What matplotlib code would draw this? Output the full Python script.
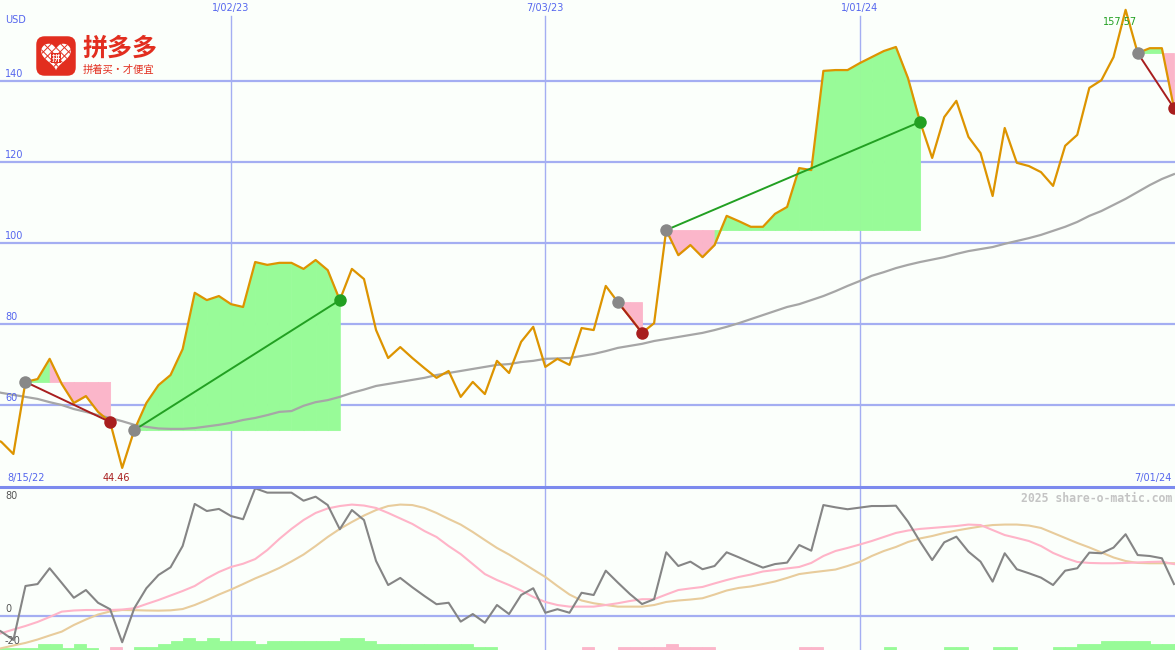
import numpy as np
import pandas as pd
import matplotlib
matplotlib.use('Agg')
import matplotlib.pyplot as plt
import matplotlib.dates as mdates
from matplotlib.patches import FancyBboxPatch, Polygon

# weekly closes, 8/15/22 .. 7/01/24 (USD)
weeks = pd.date_range('2022-08-15', periods=99, freq='7D')
price = [52.1, 50.9, 47.9, 65.7, 66.4, 71.4, 65.2, 60.5, 62.2, 58.3,
         55.8, 44.46, 53.8, 60.5, 64.9, 67.4, 73.8, 87.7, 85.9, 86.9,
         84.9, 84.2, 95.3, 94.6, 95.1, 95.1, 93.6, 95.8, 93.3, 85.9,
         93.6, 91.1, 78.5, 71.6, 74.3, 71.6, 69.1, 66.7, 68.4, 62.0,
         65.7, 62.7, 70.9, 67.9, 75.6, 79.3, 69.4, 71.4, 69.9, 79.0,
         78.5, 89.4, 85.4, 81.7, 77.8, 80.2, 103.2, 97.0, 99.5, 96.5,
         99.5, 106.7, 105.4, 104.0, 104.0, 107.2, 108.9, 118.5, 118.0, 142.5,
         142.7, 142.7, 144.4, 145.9, 147.4, 148.4, 140.7, 129.9, 121.0, 131.1,
         135.1, 126.2, 122.2, 111.6, 128.4, 119.8, 119.0, 117.5, 114.1, 124.0,
         126.7, 138.3, 140.2, 145.9, 157.57, 146.9, 148.1, 148.1, 133.3]
ma_long = [63.7, 63.0, 62.5, 62.0, 61.5, 60.7, 60.0, 59.0, 58.3, 57.5,
           56.8, 56.0, 55.1, 54.6, 54.2, 54.1, 54.1, 54.3, 54.7, 55.1,
           55.6, 56.3, 56.8, 57.5, 58.3, 58.5, 59.8, 60.7, 61.2, 62.0,
           63.0, 63.8, 64.7, 65.2, 65.7, 66.2, 66.7, 67.4, 67.9, 68.4,
           68.9, 69.4, 69.9, 70.1, 70.6, 70.9, 71.4, 71.5, 71.6, 72.1,
           72.6, 73.3, 74.1, 74.6, 75.1, 75.8, 76.3, 76.8, 77.3, 77.8,
           78.5, 79.3, 80.2, 81.2, 82.2, 83.2, 84.2, 84.9, 85.9, 86.9,
           88.1, 89.4, 90.6, 91.9, 92.8, 93.8, 94.6, 95.3, 95.9, 96.5,
           97.3, 98.0, 98.5, 99.0, 99.8, 100.5, 101.2, 102.0, 103.0, 104.0,
           105.2, 106.7, 107.9, 109.4, 110.9, 112.6, 114.3, 115.8, 117.0]

# lower panel oscillator
osc = [-5.6, -9.7, -14.9, 18.6, 19.8, 29.6, 20.5, 11.3, 16.1, 8.2,
       4.2, -16.3, 4.8, 17.2, 25.4, 30.2, 43.4, 69.5, 65.1, 66.4,
       62.0, 60.0, 79.2, 76.5, 76.5, 76.5, 71.5, 74.0, 68.8, 53.8,
       65.7, 59.5, 34.1, 19.2, 23.6, 17.8, 12.4, 7.3, 8.2, -3.5,
       1.2, -4.2, 6.8, 1.2, 13.0, 17.2, 2.0, 4.2, 2.0, 14.4,
       13.0, 28.1, 20.7, 13.6, 7.4, 10.4, 39.5, 31.0, 33.7, 29.0,
       31.0, 39.5, 36.4, 33.1, 30.0, 32.2, 33.1, 44.0, 40.5, 68.8,
       67.4, 66.2, 67.2, 68.2, 68.2, 68.4, 58.5, 46.1, 34.7, 45.7,
       49.2, 39.9, 33.7, 21.3, 38.9, 29.0, 26.5, 23.8, 19.2, 28.1,
       29.6, 39.3, 38.9, 42.4, 50.7, 37.8, 37.2, 35.8, 19.8]
osc_fast = [-13.0, -10.7, -8.4, -6.2, -3.7, -0.6, 2.7, 3.4, 3.7, 3.7,
            3.7, 4.0, 4.8, 7.4, 9.9, 12.7, 15.5, 18.6, 23.3, 27.3,
            30.4, 32.4, 35.3, 40.9, 47.8, 54.0, 59.5, 63.9, 66.7, 68.2,
            69.1, 68.5, 67.0, 63.9, 60.5, 57.1, 52.7, 49.0, 43.4, 38.4,
            32.2, 26.0, 22.3, 19.2, 15.8, 11.8, 8.7, 6.8, 5.8, 5.8,
            5.8, 6.8, 7.9, 9.3, 10.4, 10.4, 13.3, 16.1, 17.1, 18.0,
            20.2, 22.3, 24.2, 25.7, 27.6, 28.5, 29.5, 30.4, 32.9, 37.2,
            40.3, 42.2, 44.3, 46.5, 49.0, 51.5, 53.0, 54.0, 54.6, 55.2,
            55.8, 56.7, 56.4, 53.3, 50.2, 48.4, 46.5, 43.4, 39.1, 36.0,
            33.5, 32.9, 32.7, 32.7, 32.9, 33.2, 33.5, 33.7, 32.2]
osc_slow = [-21.7, -20.0, -18.3, -16.7, -14.6, -12.1, -9.7, -5.6, -2.2, 0.9,
            2.8, 3.7, 3.6, 3.4, 3.3, 3.5, 4.3, 6.8, 9.9, 13.3,
            16.4, 19.8, 23.3, 26.4, 29.8, 33.8, 38.1, 43.4, 49.0, 54.0,
            58.3, 62.3, 65.7, 68.2, 69.1, 68.8, 67.0, 63.9, 60.2, 56.7,
            52.1, 47.1, 42.2, 38.1, 33.5, 28.8, 24.2, 18.6, 13.3, 9.6,
            7.9, 6.8, 5.8, 5.8, 5.8, 6.8, 8.7, 9.6, 10.2, 11.0,
            13.3, 15.8, 17.4, 18.3, 19.8, 21.4, 23.6, 26.0, 27.0, 27.9,
            28.8, 31.0, 33.5, 37.2, 40.3, 42.8, 45.9, 48.1, 49.6, 51.5,
            53.0, 54.3, 55.5, 56.4, 56.7, 56.7, 56.1, 54.6, 51.5, 48.4,
            45.3, 42.5, 39.4, 36.3, 34.1, 32.9, 32.7, 32.7, 32.7]
hist = [1.5, 1.5, 1.5, 1.5, 3.7, 3.7, 1.5, 3.7, 1.5, 0,
        -1.7, 0, 1.7, 1.7, 3.7, 5.6, 7.5, 5.6, 7.5, 5.6,
        5.6, 5.6, 3.7, 5.6, 5.6, 5.6, 5.6, 5.6, 5.6, 7.5,
        7.5, 5.6, 3.7, 3.7, 3.7, 3.7, 3.7, 3.7, 3.7, 3.7,
        1.7, 1.7, 0, 0, 0, 0, 0, 0, 0, -1.7,
        0, 0, -1.7, -1.7, -1.7, -1.7, -3.7, -1.7, -1.7, -1.7,
        0, 0, 0, 0, 0, 0, 0, -1.7, -1.7, 0,
        0, 0, 0, 0, 1.7, 0, 0, 0, 0, 1.7,
        1.7, 0, 0, 1.7, 1.7, 0, 0, 0, 1.7, 1.7,
        3.7, 3.7, 5.6, 5.6, 5.6, 5.6, 3.7, 3.7, 3.7]

# trades: entry week, exit week
trade_in = [3, 12, 52, 56, 95]
trade_out = [10, 29, 54, 77, 98]

price_ticks = [60, 80, 100, 120, 140]
osc_ticks = [80, 0, -20]
date_ticks = pd.to_datetime(['2023-01-02', '2023-07-03', '2024-01-01'])
osc_floor = -21.1

bg = '#fbfffb'
grid = '#a4aef2'
blue_txt = '#5566ee'
orange = '#dd9400'
green_fill = '#98fb98'
pink_fill = '#fbb6ca'
green = '#22a022'
dred = '#a81e1e'
red = '#e22e1f'
cjk = ['Noto Sans CJK SC', 'DejaVu Sans']


def dlabel(d):
    return f'{d.month}/{d.day:02d}/{d.year % 100:02d}'


xd = mdates.date2num(weeks.to_pydatetime())
x0 = mdates.date2num(date_ticks[0].to_pydatetime()) - 133.75
x1 = xd[-1] + 0.6
pr = np.array(price)

fig = plt.figure(figsize=(11.75, 6.5), dpi=100)
fig.patch.set_facecolor(bg)
ax = fig.add_axes([0, 163/650, 1, 487/650])
ax2 = fig.add_axes([0, 0, 1, 163/650])
for a in (ax, ax2):
    a.set_facecolor(bg)
    a.set_xlim(x0, x1)
    a.set_xticks([])
    a.set_yticks([])
    for s in a.spines.values():
        s.set_visible(False)
ax.set_ylim(39.75, 160.0)
ax2.set_ylim(osc_floor, 80)

# grid
for v in price_ticks:
    ax.axhline(v, color=grid, lw=1.6, zorder=0.5)
    ax.annotate(str(v), xy=(0, v), xycoords=('axes fraction', 'data'),
                xytext=(5, 2), textcoords='offset pixels', fontsize=7,
                color=blue_txt, va='bottom', ha='left')
for d in date_ticks:
    dn = mdates.date2num(d.to_pydatetime())
    ax.axvline(dn, ymax=1 - 16/487, color=grid, lw=1.0, zorder=0.5)
    ax2.axvline(dn, color=grid, lw=1.0, zorder=0.5)
    ax.annotate(dlabel(d), xy=(dn, 1), xycoords=('data', 'axes fraction'),
                xytext=(0, -3), textcoords='offset pixels', fontsize=7,
                color=blue_txt, ha='center', va='top')
ax.text(5/1175, 1 - 25/487, 'USD', transform=ax.transAxes, fontsize=7,
        color=blue_txt, va='bottom', ha='left')
ax.annotate(dlabel(weeks[0]), xy=(0, 0), xycoords='axes fraction',
            xytext=(7, 4), textcoords='offset pixels', fontsize=7,
            color=blue_txt, ha='left', va='bottom')
ax.annotate(dlabel(weeks[-1]), xy=(1, 0), xycoords='axes fraction',
            xytext=(-3, 4), textcoords='offset pixels', fontsize=7,
            color=blue_txt, ha='right', va='bottom')

# trade fills (colour per week segment: above or below entry price)
for a_i, b_i in zip(trade_in, trade_out):
    lvl = pr[a_i]
    for k in range(a_i, b_i):
        c = green_fill if pr[k + 1] >= lvl else pink_fill
        ax.fill_between(xd[k:k + 2], pr[k:k + 2], lvl, facecolor=c,
                        edgecolor=c, lw=0.6, zorder=1)

ax.plot(xd, ma_long, color='#a6a6a6', lw=1.6, zorder=2)
ax.plot(xd, pr, color=orange, lw=1.6, zorder=3)

for a_i, b_i in zip(trade_in, trade_out):
    c = green if pr[b_i] >= pr[a_i] else dred
    ax.plot([xd[a_i], xd[b_i]], [pr[a_i], pr[b_i]], color=c, lw=1.4, zorder=4)
    ax.plot(xd[a_i], pr[a_i], 'o', ms=9, color='#888888', mew=0, zorder=5)
    ax.plot(xd[b_i], pr[b_i], 'o', ms=9, color=c, mew=0, zorder=5)

imin, imax = int(np.argmin(pr)), int(np.argmax(pr))
ax.annotate(f'{pr[imin]:.2f}', xy=(xd[imin], 0), xycoords=('data', 'axes fraction'),
            xytext=(-6, 4), textcoords='offset pixels', fontsize=7,
            color=dred, ha='center', va='bottom', zorder=6)
ax.annotate(f'{pr[imax]:.2f}', xy=(xd[imax], pr[imax]),
            xytext=(-6, -7), textcoords='offset pixels', fontsize=7,
            color=green, ha='center', va='top', zorder=6)

# lower panel
ax2.axhline(0, color=grid, lw=1.6, zorder=0.5)
ax2.axhline(80, color='#7c8aee', lw=2.2, zorder=6, clip_on=False)
h = np.array(hist)
hc = [green_fill if v >= 0 else pink_fill for v in h]
ax2.bar(xd, np.abs(h), width=7, align='edge', bottom=osc_floor,
        color=hc, edgecolor=hc, lw=0.6, zorder=1)
ax2.plot(xd, osc_slow, color='#e8cc9c', lw=1.5, zorder=2)
ax2.plot(xd, osc_fast, color='#ffb4c8', lw=1.5, zorder=3)
ax2.plot(xd, osc, color='#858585', lw=1.5, zorder=4)
for v in osc_ticks:
    off, va = (-4, 'top') if v == osc_ticks[0] else (2, 'bottom')
    ax2.annotate(str(v), xy=(0, v), xycoords=('axes fraction', 'data'),
                 xytext=(5, off), textcoords='offset pixels', fontsize=7,
                 color='#555555', va=va, ha='left', zorder=7)
ax2.text(1 - 3/1175, 1 - 5/163, '2025 share-o-matic.com', transform=ax2.transAxes,
         fontsize=8.3, family='DejaVu Sans Mono', fontweight='bold',
         color='#c4c4c4', ha='right', va='top')

# logo
lax = fig.add_axes([35/1175, 1 - 77/650, 42/1175, 42/650])
lax.set_xlim(0, 1)
lax.set_ylim(0, 1)
lax.axis('off')
lax.add_patch(FancyBboxPatch((0.03, 0.03), 0.94, 0.94,
                             boxstyle='round,pad=0,rounding_size=0.2',
                             fc=red, ec='none'))
t = np.linspace(0, 2*np.pi, 200)
hx = 0.5 + 0.022*16*np.sin(t)**3
hy = 0.53 + 0.022*(13*np.cos(t) - 5*np.cos(2*t) - 2*np.cos(3*t) - np.cos(4*t))
heart = Polygon(np.c_[hx, hy], fc='white', ec='none')
lax.add_patch(heart)
for c in np.linspace(-1, 1, 11):
    l1, = lax.plot([0, 1], [c, c + 1], color=red, lw=0.7)
    l2, = lax.plot([0, 1], [c + 1, c], color=red, lw=0.7)
    l1.set_clip_path(heart)
    l2.set_clip_path(heart)
lax.text(0.5, 0.45, '拼', fontsize=6, color='white', ha='center', va='center',
         family=cjk, fontweight='bold',
         bbox=dict(boxstyle='square,pad=0.1', fc=red, ec='none'))
fig.text(82/1175, 1 - 49/650, '拼多多', fontsize=18, color=red, fontweight='bold',
         family=cjk, ha='left', va='center')
fig.text(83/1175, 1 - 70/650, '拼着买·才便宜', fontsize=7.4, color=red,
         family=cjk, ha='left', va='center')

fig.savefig('out.png', dpi=100, facecolor=bg)
